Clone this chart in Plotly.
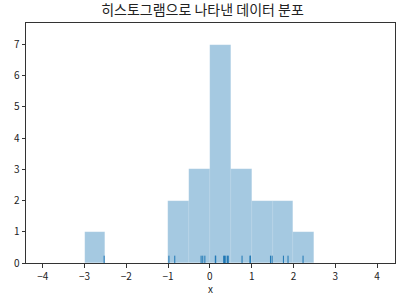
import plotly.graph_objects as go

x_values = [-2.53,
            -0.98, -0.84,
            -0.21, -0.17, -0.12,
            0.13, 0.14, 0.33, 0.35, 0.38, 0.42, 0.44,
            0.77, 0.96, 0.97,
            1.45, 1.49,
            1.76, 1.87,
            2.23]
tick_vals = [-4, -3, -2, -1, 0, 1, 2, 3, 4]
tick_text = ["\u22124", "\u22123", "\u22122", "\u22121", "0", "1", "2", "3", "4"]
y_tick_vals = [0, 1, 2, 3, 4, 5, 6, 7]
bin_start, bin_end, bin_size = -3.0, 2.5, 0.5
rug_height = 0.1

title_text = "히스토그램으로 나타낸 데이터 분포"
font_family = "Noto Sans CJK KR, Noto Sans, DejaVu Sans, sans-serif"

fig = go.Figure()
fig.add_trace(go.Histogram(
    x=x_values,
    xbins=dict(start=bin_start, end=bin_end, size=bin_size),
    marker=dict(color="rgba(31,119,180,0.4)",
                line=dict(color="rgba(255,255,255,0.2)", width=0.5)),
    showlegend=False,
))
fig.add_trace(go.Scatter(
    x=x_values,
    y=[rug_height] * len(x_values),
    mode="markers",
    marker=dict(symbol="line-ns", size=6,
                line=dict(color="#1f77b4", width=1)),
    showlegend=False,
    hoverinfo="x",
))

axis_common = dict(showline=True, mirror=True, linecolor="#333333", linewidth=1,
                   ticks="outside", ticklen=3.5, tickwidth=1, tickcolor="#333333",
                   showgrid=False, zeroline=False, automargin=False,
                   tickfont=dict(family=font_family, size=10, color="#222222"))

fig.update_layout(
    width=405, height=296,
    margin=dict(l=26, r=10, t=23, b=33),
    paper_bgcolor="white", plot_bgcolor="white",
    bargap=0,
    title=dict(text=title_text, x=0.5, xanchor="center", y=0.966, yanchor="middle",
               font=dict(family=font_family, size=14, color="#222222")),
    xaxis=dict(range=[-4.40, 4.43], tickvals=tick_vals, ticktext=tick_text,
               title=dict(text="x", font=dict(family=font_family, size=10, color="#222222"),
                          standoff=4),
               **axis_common),
    yaxis=dict(range=[0, 7.69], tickvals=y_tick_vals, **axis_common),
)

fig.write_html("out.html")
